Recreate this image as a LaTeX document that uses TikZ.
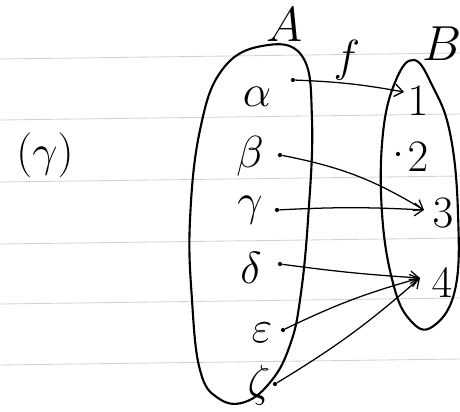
\RequirePackage{fix-cm}
\documentclass[tikz,border=0pt]{standalone}
\usetikzlibrary{arrows.meta}
\begin{document}
\begin{tikzpicture}[x=0.25mm,y=-0.25mm,
  elem/.style={font=\fontsize{32}{36}\selectfont},
  setname/.style={font=\fontsize{35}{40}\selectfont, inner sep=1pt},
  pt/.style={circle,fill,inner sep=0pt,minimum size=3pt},
  maparrow/.style={line width=0.9pt,-{Straight Barb[length=6pt,width=9pt]}},
  setline/.style={line width=1.5pt}]

\useasboundingbox (0,0) rectangle (460,412);

% ruled paper
\foreach \y in {57,118,180,242,302,363}
  \draw[gray!35, line width=0.6pt] (0,\y+2) -- (460,\y-4);

% part label
\node[elem] (part) at (45,155) {$(\gamma)$};

% set A
\draw[setline] plot[smooth cycle, tension=0.7] coordinates {(262,46) (302,56) (312,120) (308,220) (300,300) (290,345) (272,380) (245,402) (218,398) (200,370) (192,300) (190,220) (200,130) (222,70)};
\node[setname] (A) at (285,25) {$A$};

% set B
\draw[setline] plot[smooth cycle, tension=0.7] coordinates {(414,60) (432,85) (450,133) (458,213) (455,290) (432,327) (410,320) (393,283) (382,213) (383,133) (396,80)};
\node[setname] (B) at (442,44) {$B$};

% name of the map
\node[elem] (f) at (347,60) {$f$};

% elements of A
\node[elem] (a) at (257,97) {$\alpha$};
\node[elem] (b) at (250,156) {$\beta$};
\node[elem] (c) at (250,210) {$\gamma$};
\node[elem] (d) at (251,268) {$\delta$};
\node[elem] (e) at (262,333) {$\varepsilon$};
\node[elem] (z) at (259,385) {$\zeta$};
\node[pt] (pa) at (293,80) {};
\node[pt] (pb) at (280,155) {};
\node[pt] (pc) at (277,210) {};
\node[pt] (pd) at (280,264) {};
\node[pt] (pe) at (283,330) {};
\node[pt] (pz) at (275,384) {};

% elements of B
\node[elem] (one) at (418,101) {$1$};
\node[elem] (two) at (418,157) {$2$};
\node[elem] (three) at (443,213) {$3$};
\node[elem] (four) at (442,283) {$4$};
\node[pt] (p2) at (398,154) {};
\coordinate (t1) at (404,92);
\coordinate (t3) at (424,210);
\coordinate (t4) at (420,278);

% the map f
\draw[maparrow] (pa) to[bend left=4] (t1);
\draw[maparrow] (pb) to[bend left=10] (t3);
\draw[maparrow] (pc) to[bend left=3] (t3);
\draw[maparrow] (pd) to[bend right=2] (t4);
\draw[maparrow] (pe) to[bend left=5] (t4);
\draw[maparrow] (pz) to[bend right=5] (t4);

\end{tikzpicture}
\end{document}
